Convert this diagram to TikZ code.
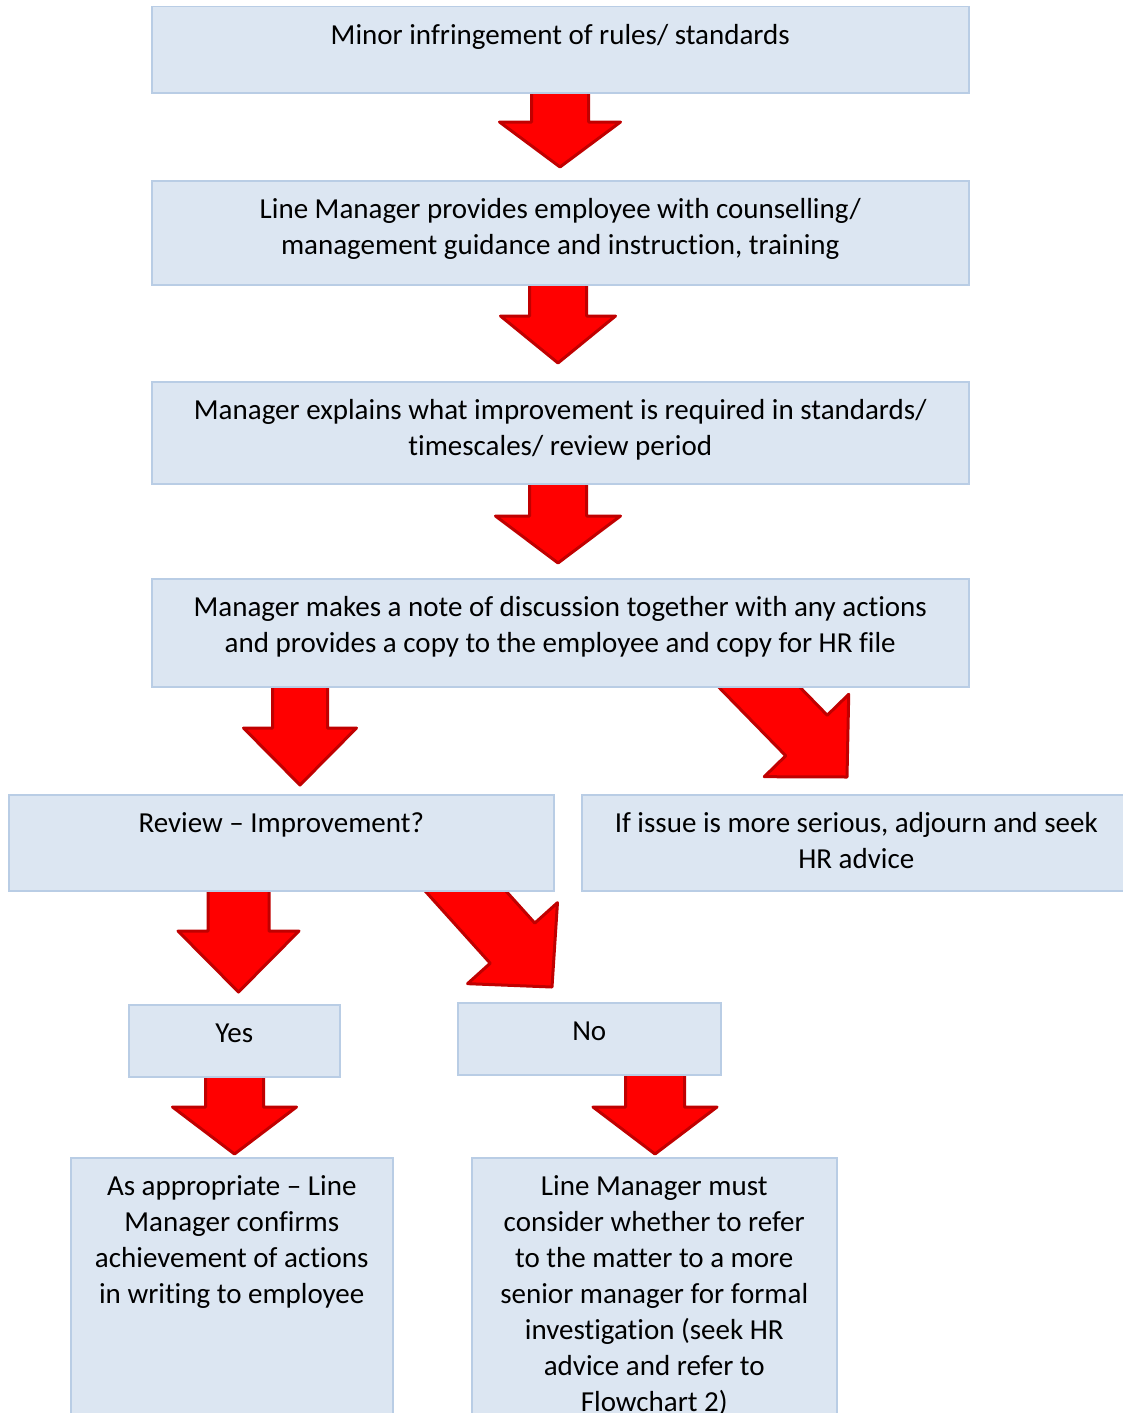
\documentclass[tikz,border=0pt]{standalone}
\usepackage{fontspec}
\setmainfont{Carlito}[Ligatures=NoCommon]
\usetikzlibrary{calc,backgrounds}
\definecolor{boxfill}{HTML}{DCE6F2}
\definecolor{boxline}{HTML}{B9CDE5}
\definecolor{arrfill}{HTML}{FF0000}
\definecolor{arrline}{HTML}{C00000}
% block arrow: start, tip, shaft half width, head half width, head length
\newcommand\blockarr[5]{%
  \coordinate (bh) at ($(#2)!#5!(#1)$);
  \filldraw[redarrow] ($(#1)!#3!90:(#2)$) -- ($(bh)!#3!90:(#2)$) -- ($(bh)!#4!90:(#2)$) -- (#2)
    -- ($(bh)!#4!-90:(#2)$) -- ($(bh)!#3!-90:(#2)$) -- ($(#1)!#3!-90:(#2)$) -- cycle;}
\begin{document}
\begin{tikzpicture}[x=1pt,y=-1pt,
  box/.style={draw=boxline, fill=boxfill, line width=1.5pt, inner sep=0pt, anchor=north west},
  lbl/.style={font=\fontsize{29}{36}\selectfont, align=center, inner sep=0pt, anchor=north, text=black},
  redarrow/.style={fill=arrfill, draw=arrline, line width=3pt, line join=round}]
\useasboundingbox (0,0) rectangle (1123,1413);
\clip (0,0) rectangle (1123,1413);

% boxes
\node[box, minimum width=817pt, minimum height=86pt]  (b1) at (151,6) {};
\node[box, minimum width=817pt, minimum height=104pt] (b2) at (151,180) {};
\node[box, minimum width=817pt, minimum height=102pt] (b3) at (151,381) {};
\node[box, minimum width=817pt, minimum height=108pt] (b4) at (151,578) {};
\node[box, minimum width=545pt, minimum height=96pt]  (rev) at (8,794) {};
\node[box, minimum width=543pt, minimum height=96pt]  (ser) at (581,794) {};
\node[box, minimum width=211pt, minimum height=72pt]  (yes) at (128,1004) {};
\node[box, minimum width=263pt, minimum height=72pt]  (no) at (457,1002) {};
\node[box, minimum width=322pt, minimum height=280pt] (app) at (70,1157) {};
\node[box, minimum width=365pt, minimum height=280pt] (lmm) at (471,1157) {};

% labels
\node[lbl] (l1) at ($(b1.north)+(0,12.8)$) {\strut Minor infringement of rules/ standards};
\node[lbl] (l2) at ($(b2.north)+(0,12.8)$) {\strut Line Manager provides employee with counselling/\\management guidance and instruction, training};
\node[lbl] (l3) at ($(b3.north)+(0,12.8)$) {\strut Manager explains what improvement is required in standards/\\timescales/ review period};
\node[lbl] (l4) at ($(b4.north)+(0,12.8)$) {\strut Manager makes a note of discussion together with any actions\\and provides a copy to the employee and copy for HR file};
\node[lbl] (lr) at ($(rev.north)+(0,12.8)$) {\strut Review – Improvement?};
\node[lbl] (ls) at ($(ser.north)+(3,12.8)$) {\strut If issue is more serious, adjourn and seek\\HR advice};
\node[lbl] (ly) at ($(yes.north)+(0,12.8)$) {\strut Yes};
\node[lbl] (ln) at ($(no.north)+(0,12.8)$) {\strut No};
\node[lbl] (la) at ($(app.north)+(0,12.8)$) {\strut As appropriate – Line\\Manager confirms\\achievement of actions\\in writing to employee};
\node[lbl] (lm) at ($(lmm.north)+(0,12.8)$) {\strut Line Manager must\\consider whether to refer\\to the matter to a more\\senior manager for formal\\investigation (seek HR\\advice and refer to\\Flowchart 2)};

% arrows
\begin{pgfonlayer}{background}
\coordinate (s1) at (560,88);   \coordinate (t1) at (560,167);
\coordinate (s2) at (558,280);  \coordinate (t2) at (558,363);
\coordinate (s3) at (558,479);  \coordinate (t3) at (558,563);
\coordinate (s4) at (300,682);  \coordinate (t4) at (300,785);
\coordinate (s5) at (726,653);  \coordinate (t5) at (847,777);
\coordinate (s6) at (434,856);  \coordinate (t6) at (552,987);
\coordinate (s7) at (238.5,886); \coordinate (t7) at (238.5,992);
\coordinate (s8) at (234.5,1072); \coordinate (t8) at (234.5,1154);
\coordinate (s9) at (655,1070); \coordinate (t9) at (655,1154);
\blockarr{s1}{t1}{28.5pt}{60.5pt}{45pt}
\blockarr{s2}{t2}{28.5pt}{57.5pt}{47pt}
\blockarr{s3}{t3}{28.5pt}{62.5pt}{47pt}
\blockarr{s4}{t4}{27.5pt}{56.5pt}{57pt}
\blockarr{s5}{t5}{29pt}{59pt}{58pt}
\blockarr{s6}{t6}{30pt}{60.5pt}{59pt}
\blockarr{s7}{t7}{30.5pt}{60.5pt}{61pt}
\blockarr{s8}{t8}{29pt}{62pt}{47pt}
\blockarr{s9}{t9}{29.5pt}{62pt}{47pt}
\end{pgfonlayer}
\end{tikzpicture}
\end{document}
